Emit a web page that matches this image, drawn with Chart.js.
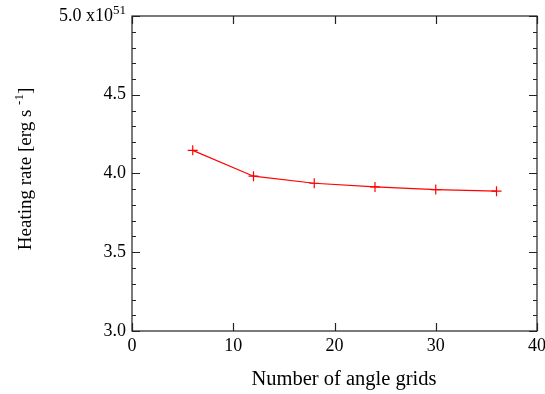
<!DOCTYPE html>
<html>
<head>
<meta charset="utf-8">
<script src="https://cdn.jsdelivr.net/npm/chart.js@4.4.0/dist/chart.umd.min.js"></script>
<style>
  html, body { margin: 0; padding: 0; background: #fff; }
  #wrap { width: 545px; height: 394px; }
</style>
</head>
<body>
<div id="wrap"><canvas id="grafico" width="545" height="394"></canvas></div>
<script>
// data
const angleGrids = [6, 12, 18, 24, 30, 36];
const heatingRate = [4.147, 3.983, 3.938, 3.915, 3.898, 3.888];
const xTicks = [0, 10, 20, 30, 40];
const yTicks = [3.0, 3.5, 4.0, 4.5, 5.0];
const yMinorStep = 0.1;

const serif = '"Liberation Serif", "Times New Roman", serif';

// frame, inward ticks, labels and titles like the original plot
const framePlugin = {
  id: 'frame',
  afterDraw(chart) {
    const ctx = chart.ctx;
    const a = chart.chartArea;
    const xs = chart.scales.x, ys = chart.scales.y;
    ctx.save();
    ctx.strokeStyle = '#222';
    ctx.lineWidth = 1.2;
    ctx.strokeRect(a.left, a.top, a.right - a.left, a.bottom - a.top);

    ctx.beginPath();
    xTicks.forEach(v => {
      const px = Math.round(xs.getPixelForValue(v)) + 0.5;
      ctx.moveTo(px, a.bottom); ctx.lineTo(px, a.bottom - 8);
      ctx.moveTo(px, a.top); ctx.lineTo(px, a.top + 8);
    });
    for (let v = 3.0; v <= 5.0001; v += yMinorStep) {
      const major = yTicks.some(t => Math.abs(t - v) < 1e-6);
      const len = major ? 8 : 4;
      const py = Math.round(ys.getPixelForValue(v)) + 0.5;
      ctx.moveTo(a.left, py); ctx.lineTo(a.left + len, py);
      ctx.moveTo(a.right, py); ctx.lineTo(a.right - len, py);
    }
    ctx.stroke();

    ctx.fillStyle = '#000';
    ctx.font = '18px ' + serif;
    ctx.textAlign = 'center';
    ctx.textBaseline = 'middle';
    xTicks.forEach(v => {
      ctx.fillText(String(v), xs.getPixelForValue(v), a.bottom + 15);
    });
    ctx.textAlign = 'right';
    yTicks.forEach(v => {
      const py = ys.getPixelForValue(v);
      if (v === 5.0) {
        ctx.font = '13px ' + serif;
        const w = ctx.measureText('51').width;
        ctx.textAlign = 'left';
        ctx.fillText('51', a.left - 6 - w, py - 5);
        ctx.font = '18px ' + serif;
        ctx.textAlign = 'right';
        ctx.fillText('5.0 x10', a.left - 6 - w, py);
      } else {
        ctx.fillText(v.toFixed(1), a.left - 6, py);
      }
    });

    // x title
    ctx.textAlign = 'center';
    ctx.textBaseline = 'alphabetic';
    ctx.font = '20.5px ' + serif;
    ctx.fillText('Number of angle grids', 344, 385);

    // y title with superscript
    ctx.translate(31, 169);
    ctx.rotate(-Math.PI / 2);
    const main = 'Heating rate [erg s ';
    const sup = '-1';
    const end = ']';
    ctx.font = '19px ' + serif;
    const wMain = ctx.measureText(main).width;
    const wEnd = ctx.measureText(end).width;
    ctx.font = '13px ' + serif;
    const wSup = ctx.measureText(sup).width;
    let x0 = -(wMain + wSup + wEnd) / 2;
    ctx.textAlign = 'left';
    ctx.font = '19px ' + serif;
    ctx.fillText(main, x0, 0);
    ctx.font = '13px ' + serif;
    ctx.fillText(sup, x0 + wMain, -8);
    ctx.font = '19px ' + serif;
    ctx.fillText(end, x0 + wMain + wSup, 0);
    ctx.restore();
  }
};

const ctx = document.getElementById('grafico').getContext('2d');
new Chart(ctx, {
  type: 'line',
  data: {
    datasets: [{
      label: 'Heating rate',
      data: angleGrids.map((x, i) => ({ x: x, y: heatingRate[i] })),
      borderColor: '#ff0000',
      backgroundColor: '#ff0000',
      borderWidth: 1.2,
      pointStyle: 'cross',
      pointRadius: 5,
      pointBorderWidth: 1.2,
      pointHoverRadius: 5,
      tension: 0,
      fill: false
    }]
  },
  options: {
    responsive: false,
    animation: false,
    events: [],
    layout: { padding: { left: 132, top: 16, right: 8, bottom: 63 } },
    plugins: { legend: { display: false }, tooltip: { enabled: false } },
    scales: {
      x: {
        type: 'linear', min: 0, max: 40,
        ticks: { display: false }, grid: { display: false }, border: { display: false },
        afterFit: s => { s.height = 0; }
      },
      y: {
        type: 'linear', min: 3.0, max: 5.0,
        ticks: { display: false }, grid: { display: false }, border: { display: false },
        afterFit: s => { s.width = 0; }
      }
    }
  },
  plugins: [framePlugin]
});
</script>
</body>
</html>
